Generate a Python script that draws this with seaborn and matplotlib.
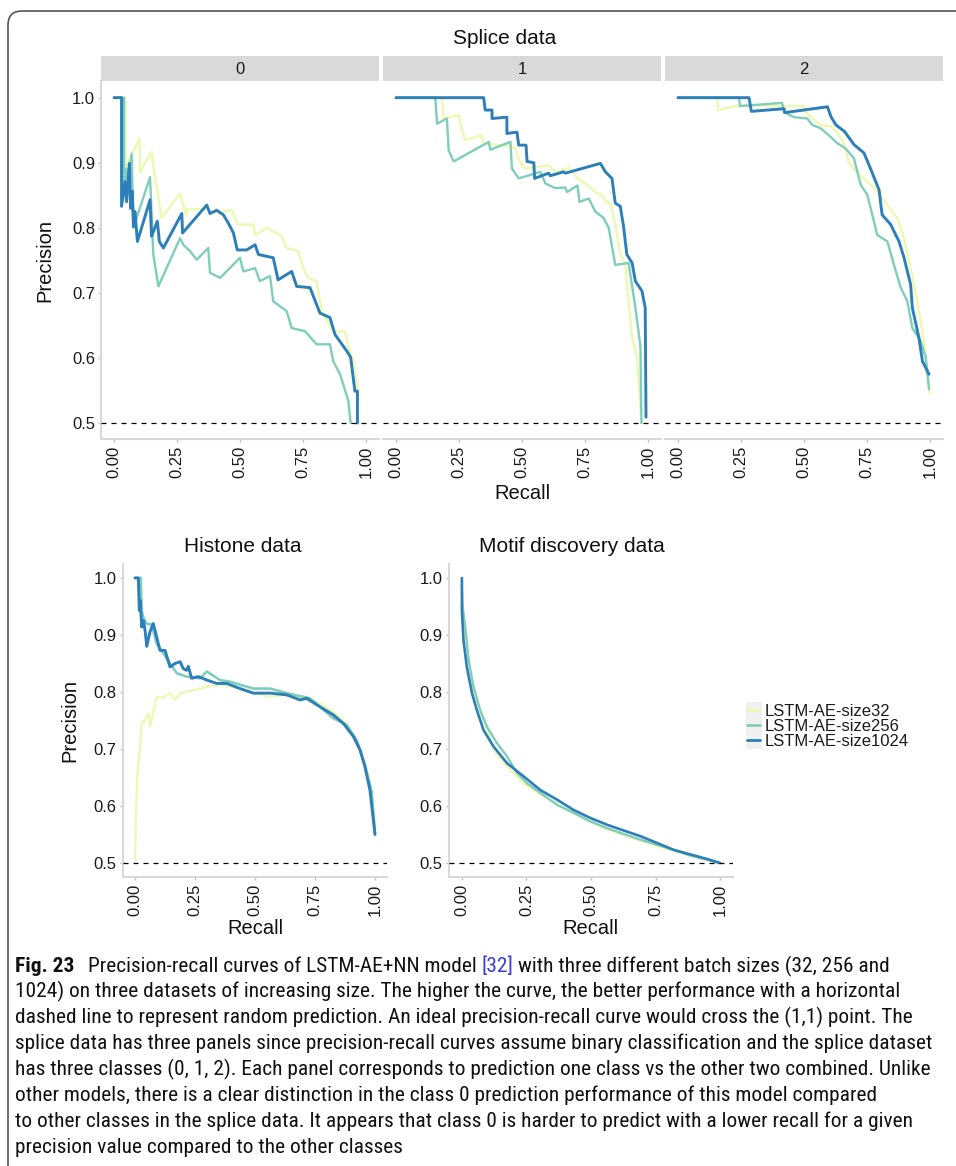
import matplotlib
matplotlib.use("Agg")
import matplotlib.pyplot as plt
import seaborn as sns
import pandas as pd
from matplotlib.patches import FancyBboxPatch, Rectangle
from matplotlib.lines import Line2D
from matplotlib.transforms import IdentityTransform
from matplotlib import font_manager

# ---------------- data ----------------
models = ["LSTM-AE-size32", "LSTM-AE-size256", "LSTM-AE-size1024"]
colors = ["#EDF8B1", "#7FCDBB", "#2C7FB8"]
splice_classes = ["0", "1", "2"]
x_ticks = [0.0, 0.25, 0.5, 0.75, 1.0]
x_tick_labels = ["0.00", "0.25", "0.50", "0.75", "1.00"]
y_ticks = [0.5, 0.6, 0.7, 0.8, 0.9, 1.0]
y_tick_labels = ["0.5", "0.6", "0.7", "0.8", "0.9", "1.0"]
random_precision = 0.5

# Splice class 0
s0_r32 = [0.0, 0.044, 0.044, 0.101, 0.103, 0.149, 0.159, 0.172, 0.189, 0.262, 0.286, 0.291, 0.368, 0.381, 0.467, 0.493,
          0.553, 0.560, 0.606, 0.665, 0.685, 0.731, 0.751, 0.771, 0.804, 0.824, 0.870, 0.917, 0.930, 0.952, 0.966, 0.966]
s0_p32 = [1.0, 1.0, 0.891, 0.937, 0.886, 0.917, 0.886, 0.856, 0.815, 0.853, 0.820, 0.828, 0.830, 0.822, 0.827, 0.805,
          0.805, 0.789, 0.800, 0.787, 0.769, 0.764, 0.738, 0.723, 0.718, 0.672, 0.641, 0.641, 0.616, 0.593, 0.555, 0.500]
s0_r256 = [0.0, 0.040, 0.040, 0.050, 0.056, 0.070, 0.077, 0.143, 0.156, 0.176, 0.262, 0.275, 0.302, 0.328, 0.374, 0.381,
           0.421, 0.500, 0.513, 0.560, 0.579, 0.619, 0.632, 0.685, 0.705, 0.758, 0.804, 0.857, 0.870, 0.897, 0.930, 0.939]
s0_p256 = [1.0, 1.0, 0.856, 0.891, 0.870, 0.914, 0.800, 0.878, 0.759, 0.710, 0.784, 0.774, 0.764, 0.751, 0.769, 0.731,
           0.723, 0.754, 0.733, 0.738, 0.718, 0.726, 0.687, 0.672, 0.646, 0.641, 0.621, 0.621, 0.595, 0.575, 0.534, 0.500]
s0_r1024 = [0.0, 0.030, 0.030, 0.044, 0.050, 0.061, 0.066, 0.073, 0.077, 0.083, 0.093, 0.143, 0.149, 0.172, 0.180,
            0.196, 0.269, 0.272, 0.368, 0.381, 0.407, 0.434, 0.454, 0.474, 0.489, 0.526, 0.560, 0.573, 0.632, 0.651,
            0.705, 0.725, 0.778, 0.817, 0.857, 0.877, 0.923, 0.939, 0.956, 0.966, 0.966]
s0_p1024 = [1.0, 1.0, 0.833, 0.871, 0.840, 0.899, 0.830, 0.856, 0.802, 0.825, 0.779, 0.843, 0.787, 0.810, 0.779,
            0.769, 0.822, 0.792, 0.835, 0.822, 0.827, 0.820, 0.807, 0.792, 0.766, 0.766, 0.774, 0.759, 0.754, 0.720,
            0.733, 0.710, 0.708, 0.669, 0.662, 0.636, 0.611, 0.601, 0.549, 0.549, 0.500]

# Splice class 1
s1_r32 = [0.0, 0.183, 0.189, 0.249, 0.262, 0.275, 0.341, 0.347, 0.454, 0.474, 0.487, 0.513, 0.606, 0.632, 0.688,
          0.720, 0.746, 0.791, 0.817, 0.831, 0.851, 0.870, 0.890, 0.910, 0.923, 0.937, 0.956, 0.963, 0.974]
s1_p32 = [1.0, 1.0, 0.968, 0.973, 0.950, 0.935, 0.942, 0.930, 0.925, 0.922, 0.904, 0.891, 0.896, 0.886, 0.892,
          0.876, 0.870, 0.855, 0.850, 0.840, 0.838, 0.805, 0.759, 0.743, 0.687, 0.631, 0.601, 0.560, 0.500]
s1_r256 = [0.0, 0.156, 0.163, 0.202, 0.209, 0.229, 0.368, 0.374, 0.454, 0.460, 0.487, 0.573, 0.593, 0.632, 0.672,
           0.679, 0.720, 0.728, 0.765, 0.791, 0.824, 0.844, 0.870, 0.923, 0.950, 0.970, 0.974]
s1_p256 = [1.0, 1.0, 0.960, 0.968, 0.919, 0.902, 0.932, 0.920, 0.932, 0.891, 0.876, 0.886, 0.868, 0.861, 0.862,
           0.855, 0.865, 0.840, 0.845, 0.825, 0.815, 0.800, 0.743, 0.746, 0.677, 0.618, 0.500]
s1_r1024 = [0.0, 0.348, 0.354, 0.381, 0.381, 0.440, 0.440, 0.480, 0.487, 0.516, 0.520, 0.547, 0.550, 0.606, 0.612,
            0.665, 0.672, 0.811, 0.831, 0.857, 0.870, 0.890, 0.903, 0.916, 0.937, 0.950, 0.976, 0.989, 0.992]
s1_p1024 = [1.0, 1.0, 0.981, 0.981, 0.968, 0.970, 0.945, 0.947, 0.927, 0.927, 0.902, 0.900, 0.876, 0.884, 0.880,
            0.886, 0.884, 0.899, 0.886, 0.876, 0.838, 0.833, 0.802, 0.759, 0.746, 0.718, 0.703, 0.677, 0.509]

# Splice class 2
s2_r32 = [0.0, 0.156, 0.159, 0.249, 0.421, 0.500, 0.513, 0.566, 0.608, 0.632, 0.659, 0.679, 0.712, 0.751, 0.791,
          0.831, 0.870, 0.897, 0.923, 0.950, 0.976, 0.989, 1.0]
s2_p32 = [1.0, 1.0, 0.981, 0.989, 0.987, 0.987, 0.975, 0.958, 0.956, 0.947, 0.930, 0.899, 0.884, 0.871, 0.856,
          0.835, 0.815, 0.784, 0.738, 0.687, 0.626, 0.580, 0.547]
s2_r256 = [0.0, 0.242, 0.246, 0.413, 0.421, 0.460, 0.513, 0.533, 0.566, 0.599, 0.632, 0.665, 0.698, 0.725, 0.751,
           0.771, 0.791, 0.831, 0.857, 0.884, 0.910, 0.930, 0.963, 0.983, 0.996]
s2_p256 = [1.0, 1.0, 0.987, 0.992, 0.978, 0.970, 0.968, 0.958, 0.953, 0.942, 0.930, 0.922, 0.907, 0.866, 0.851,
           0.820, 0.789, 0.779, 0.743, 0.708, 0.687, 0.646, 0.626, 0.601, 0.552]
s2_r1024 = [0.0, 0.282, 0.291, 0.421, 0.423, 0.593, 0.608, 0.627, 0.661, 0.698, 0.738, 0.765, 0.798, 0.810, 0.844,
            0.877, 0.897, 0.923, 0.930, 0.956, 0.970, 0.996]
s2_p1024 = [1.0, 1.0, 0.979, 0.983, 0.977, 0.986, 0.970, 0.958, 0.948, 0.928, 0.915, 0.890, 0.858, 0.820, 0.805,
            0.779, 0.754, 0.713, 0.677, 0.631, 0.595, 0.575]

# Histone
h_r32 = [0.0, 0.004, 0.010, 0.021, 0.028, 0.042, 0.056, 0.063, 0.076, 0.090, 0.118, 0.146, 0.167, 0.188, 0.243,
         0.299, 0.354, 0.410, 0.493, 0.563, 0.632, 0.715, 0.771, 0.826, 0.882, 0.924, 0.958, 0.986, 1.0]
h_p32 = [0.5, 0.588, 0.657, 0.704, 0.745, 0.751, 0.763, 0.739, 0.765, 0.792, 0.790, 0.798, 0.786, 0.798, 0.803,
         0.809, 0.812, 0.809, 0.798, 0.792, 0.795, 0.786, 0.780, 0.765, 0.745, 0.716, 0.675, 0.628, 0.564]
h_r256 = [0.0, 0.024, 0.028, 0.035, 0.049, 0.070, 0.090, 0.118, 0.146, 0.174, 0.215, 0.271, 0.299, 0.354, 0.396,
          0.493, 0.563, 0.632, 0.729, 0.771, 0.826, 0.882, 0.924, 0.958, 0.986, 1.0]
h_p256 = [1.0, 1.0, 0.943, 0.930, 0.920, 0.918, 0.885, 0.868, 0.850, 0.833, 0.827, 0.824, 0.836, 0.821, 0.818,
          0.806, 0.806, 0.798, 0.789, 0.774, 0.754, 0.742, 0.715, 0.672, 0.625, 0.552]
h_r1024 = [0.0, 0.014, 0.018, 0.022, 0.028, 0.035, 0.042, 0.049, 0.062, 0.076, 0.090, 0.104, 0.125, 0.146, 0.167,
           0.188, 0.201, 0.215, 0.222, 0.236, 0.264, 0.299, 0.340, 0.382, 0.438, 0.493, 0.563, 0.632, 0.688, 0.715,
           0.771, 0.826, 0.868, 0.910, 0.938, 0.958, 0.979, 1.0]
h_p1024 = [1.0, 1.0, 0.943, 0.960, 0.914, 0.925, 0.908, 0.880, 0.905, 0.920, 0.897, 0.873, 0.873, 0.844, 0.850,
           0.853, 0.841, 0.838, 0.845, 0.824, 0.827, 0.821, 0.815, 0.815, 0.806, 0.798, 0.798, 0.795, 0.786, 0.789,
           0.774, 0.760, 0.745, 0.722, 0.698, 0.669, 0.628, 0.550]

# Motif discovery
m_r32 = [0.0, 0.003, 0.013, 0.026, 0.045, 0.071, 0.097, 0.123, 0.175, 0.239, 0.304, 0.369, 0.433, 0.498, 0.563,
         0.627, 0.692, 0.757, 0.821, 0.886, 0.950, 1.0]
m_p32 = [0.970, 0.940, 0.905, 0.850, 0.805, 0.765, 0.735, 0.698, 0.669, 0.640, 0.620, 0.603, 0.587, 0.572, 0.559,
         0.549, 0.539, 0.530, 0.521, 0.512, 0.505, 0.500]
m_r256 = [0.0, 0.003, 0.013, 0.026, 0.045, 0.071, 0.097, 0.136, 0.175, 0.213, 0.252, 0.304, 0.369, 0.433, 0.498,
          0.563, 0.627, 0.692, 0.757, 0.821, 0.886, 0.950, 1.0]
m_p256 = [0.984, 0.950, 0.914, 0.856, 0.809, 0.768, 0.739, 0.710, 0.687, 0.658, 0.640, 0.623, 0.602, 0.588, 0.573,
          0.561, 0.551, 0.541, 0.532, 0.523, 0.513, 0.506, 0.500]
m_r1024 = [0.0, 0.0, 0.006, 0.019, 0.039, 0.058, 0.084, 0.123, 0.175, 0.239, 0.304, 0.369, 0.433, 0.498, 0.563,
           0.627, 0.692, 0.757, 0.821, 0.886, 0.950, 1.0]
m_p1024 = [1.0, 0.943, 0.891, 0.844, 0.798, 0.768, 0.733, 0.704, 0.675, 0.652, 0.628, 0.611, 0.593, 0.579, 0.567,
           0.557, 0.547, 0.535, 0.523, 0.515, 0.507, 0.500]

caption_lines = [
    "1024) on three datasets of increasing size. The higher the curve, the better performance with a horizontal",
    "dashed line to represent random prediction. An ideal precision-recall curve would cross the (1,1) point. The",
    "splice data has three panels since precision-recall curves assume binary classification and the splice dataset",
    "has three classes (0, 1, 2). Each panel corresponds to prediction one class vs the other two combined. Unlike",
    "other models, there is a clear distinction in the class 0 prediction performance of this model compared",
    "to other classes in the splice data. It appears that class 0 is harder to predict with a lower recall for a given",
    "precision value compared to the other classes",
]

# ---------------- style ----------------
sns.set_theme(style="white")
plt.rcParams["font.family"] = ["Liberation Sans", "DejaVu Sans"]
plt.rcParams["axes.unicode_minus"] = False

W, H = 956, 1166
fig = plt.figure(figsize=(W / 100, H / 100), dpi=100)
fig.patch.set_facecolor("white")


def add_ax(l, t, r, b):
    return fig.add_axes([l / W, 1 - b / H, (r - l) / W, (b - t) / H])


def frame(df_list, ax, left=True, lws=(1.7, 1.7, 2.1)):
    for (rr, pp), m, c, lw in zip(df_list, models, colors, lws):
        d = pd.DataFrame({"recall": rr, "precision": pp, "model": m})
        sns.lineplot(data=d, x="recall", y="precision", color=c, sort=False, estimator=None,
                     lw=lw, ax=ax, legend=False)
    ax.axhline(random_precision, color="black", lw=0.9, ls=(0, (4, 4)), zorder=5)
    ax.set_xlim(-0.05, 1.05)
    ax.set_ylim(0.475, 1.025)
    ax.set_facecolor("none")
    ax.set_xlabel("")
    ax.set_ylabel("")
    for s in ["top", "right"]:
        ax.spines[s].set_visible(False)
    for s in ["left", "bottom"]:
        ax.spines[s].set_color("#D9D9D9")
        ax.spines[s].set_linewidth(1.5)
    ax.spines["left"].set_visible(left)
    ax.set_xticks(x_ticks)
    ax.set_xticklabels(x_tick_labels, rotation=90)
    ax.set_yticks(y_ticks)
    if left:
        ax.set_yticklabels(y_tick_labels)
    else:
        ax.set_yticklabels([])
        ax.tick_params(axis="y", length=0)
    ax.tick_params(axis="both", labelsize=12, labelcolor="#1A1A1A", color="#BDBDBD",
                   length=2.5, width=1, pad=2, bottom=True, left=left)


# ---------------- splice panels ----------------
splice_data = [
    [(s0_r32, s0_p32), (s0_r256, s0_p256), (s0_r1024, s0_p1024)],
    [(s1_r32, s1_p32), (s1_r256, s1_p256), (s1_r1024, s1_p1024)],
    [(s2_r32, s2_p32), (s2_r256, s2_p256), (s2_r1024, s2_p1024)],
]
panel_lr = [(101.4, 378.6), (383.4, 660.6), (665.4, 942.6)]
for i, ((l, r), cls, dl) in enumerate(zip(panel_lr, splice_classes, splice_data)):
    ax = add_ax(l, 81.4, r, 439.3)
    frame(dl, ax, left=(i == 0))
    sa = add_ax(l, 56, r, 80.5)
    sa.set_facecolor("#D9D9D9")
    sa.set_xticks([]); sa.set_yticks([])
    for s in sa.spines.values():
        s.set_visible(False)
    sa.text(0.5, 0.45, cls, ha="center", va="center", fontsize=12, color="#1A1A1A", transform=sa.transAxes)

fig.text(505 / W, 1 - 38 / H, "Splice data", ha="center", va="center", fontsize=15, color="#111111")
fig.text(522 / W, 1 - 494 / H, "Recall", ha="center", va="center", fontsize=14.5, color="#111111")
fig.text(45 / W, 1 - 260 / H, "Precision", ha="center", va="center", rotation=90, fontsize=14.5, color="#111111")

# ---------------- histone ----------------
axh = add_ax(123, 563.7, 387, 877.3)
frame([(h_r32, h_p32), (h_r256, h_p256), (h_r1024, h_p1024)], axh, left=True, lws=(1.6, 1.9, 2.1))
fig.text(243 / W, 1 - 547 / H, "Histone data", ha="center", va="center", fontsize=15, color="#111111")
fig.text(255 / W, 1 - 928 / H, "Recall", ha="center", va="center", fontsize=14.5, color="#111111")
fig.text(70 / W, 1 - 720 / H, "Precision", ha="center", va="center", rotation=90, fontsize=14.5, color="#111111")

# ---------------- motif ----------------
axm = add_ax(449, 563.7, 733, 877.3)
frame([(m_r32, m_p32), (m_r256, m_p256), (m_r1024, m_p1024)], axm, left=True, lws=(1.6, 1.7, 1.9))
fig.text(572 / W, 1 - 547 / H, "Motif discovery data", ha="center", va="center", fontsize=15, color="#111111")
fig.text(590 / W, 1 - 928 / H, "Recall", ha="center", va="center", fontsize=14.5, color="#111111")

# ---------------- legend ----------------
fig.patches.append(Rectangle((746 / W, 1 - 749 / H), 16 / W, 47 / H, transform=fig.transFigure,
                             facecolor="#F0F0F0", edgecolor="none", zorder=0))
handles = [Line2D([], [], color=c, lw=2.0) for c in colors]
fig.legend(handles, models, loc="upper left", bbox_to_anchor=(747 / W, 1 - 704 / H), frameon=False,
           fontsize=12, handlelength=0.75, handletextpad=0.3, labelspacing=0.0, borderpad=0,
           borderaxespad=0, labelcolor="#1A1A1A")

# ---------------- border ----------------
box = FancyBboxPatch((8, -60), 1200, (H - 11) + 60, boxstyle="round,pad=0,rounding_size=14",
                     transform=IdentityTransform(), facecolor="none", edgecolor="#555555", lw=1.2,
                     clip_on=False)
fig.patches.append(box)

# ---------------- caption ----------------
avail = {f.name for f in font_manager.fontManager.ttflist}
cap_font = "Liberation Sans"
for cand in ["Liberation Sans Narrow", "Roboto Condensed", "Open Sans Condensed", "DejaVu Sans Condensed"]:
    if cand in avail:
        cap_font = cand
        break

renderer = fig.canvas.get_renderer()


def text_width(s, **kw):
    t = fig.text(0, 0, s, **kw)
    w = t.get_window_extent(renderer).width
    t.remove()
    return w


fs = 13.0
w4 = text_width(caption_lines[2], family=cap_font, fontsize=fs)
fs = fs * 916.0 / w4
space = text_width("a a", family=cap_font, fontsize=fs) - text_width("aa", family=cap_font, fontsize=fs)

y0, dy = 966, 25.9
x = 15.0
pieces = [("Fig. 23", "bold", "#111111", 2.8),
          ("Precision-recall curves of LSTM-AE+NN model", "normal", "#111111", 1.0),
          ("[32]", "normal", "#3B3BD6", 1.0),
          ("with three different batch sizes (32, 256 and", "normal", "#111111", 0.0)]
for txt, wt, col, gap in pieces:
    kw = dict(family=cap_font, fontsize=fs, fontweight=wt)
    fig.text(x / W, 1 - y0 / H, txt, ha="left", va="center", color=col, **kw)
    x += text_width(txt, **kw) + gap * space
for i, line in enumerate(caption_lines):
    fig.text(15 / W, 1 - (y0 + (i + 1) * dy) / H, line, ha="left", va="center", family=cap_font,
             fontsize=fs, color="#111111")

fig.savefig("out.png", dpi=100, facecolor="white")
